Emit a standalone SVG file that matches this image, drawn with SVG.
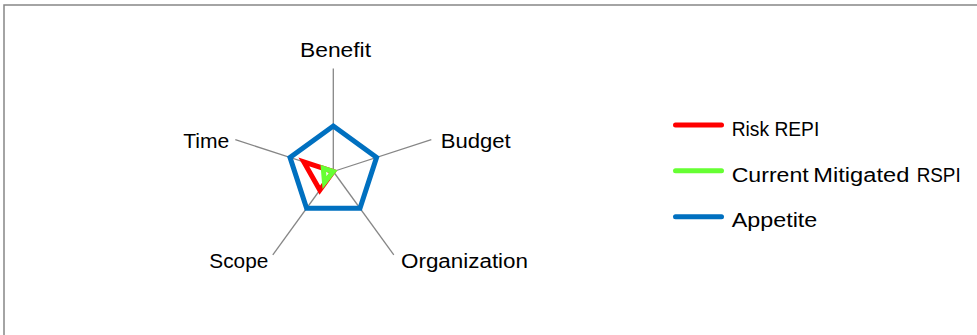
<svg xmlns="http://www.w3.org/2000/svg" width="977" height="335" viewBox="0 0 977 335">
<style>
.lbl{font-family:"Liberation Sans",Arial,sans-serif;font-size:20px;fill:#000}
.axis{stroke:#868686;stroke-width:1.3;fill:none}
.series{fill:none;stroke-width:5;stroke-linejoin:miter}
.leg{stroke-width:5;stroke-linecap:round}
</style>
<rect x="4" y="5" width="1000" height="400" fill="#fff" stroke="#868686" stroke-width="1.5"/>
<g id="axes">
<line class="axis" x1="333.3" y1="171.5" x2="333.3" y2="68.5"/>
<line class="axis" x1="333.3" y1="171.5" x2="431.3" y2="139.7"/>
<line class="axis" x1="333.3" y1="171.5" x2="393.8" y2="254.8"/>
<line class="axis" x1="333.3" y1="171.5" x2="272.8" y2="254.8"/>
<line class="axis" x1="333.3" y1="171.5" x2="235.3" y2="139.7"/>
</g>
<g id="axis-labels">
<text class="lbl" x="300" y="57" textLength="71" lengthAdjust="spacingAndGlyphs">Benefit</text>
<text class="lbl" x="440.7" y="147.5" textLength="70" lengthAdjust="spacingAndGlyphs">Budget</text>
<text class="lbl" x="401" y="268" textLength="127" lengthAdjust="spacingAndGlyphs">Organization</text>
<text class="lbl" x="209.3" y="268" textLength="59" lengthAdjust="spacingAndGlyphs">Scope</text>
<text class="lbl" x="183.3" y="147.5" textLength="46" lengthAdjust="spacingAndGlyphs">Time</text>
</g>
<g id="series-appetite">
<polygon class="series" stroke="#0070C0" points="333.3,126 376.6,157.4 360,208.3 306.6,208.3 290,157.4"/>
</g>
<g id="series-risk">
<polygon class="series" stroke="#FF0000" points="333.3,171.5 333.3,171.5 333.3,171.5 319.8,190.1 303.8,161.9"/>
</g>
<g id="series-current">
<polygon class="series" stroke="#66FF33" stroke-width="4.5" points="333.3,171.5 333.3,171.5 333.3,171.5 324.5,182.6 323.3,168.3"/>
</g>
<g id="legend">
<line class="leg" stroke="#FF0000" x1="675.5" y1="125" x2="721.5" y2="125"/>
<text class="lbl" x="731.7" y="135.7" textLength="87.6" lengthAdjust="spacingAndGlyphs">Risk REPI</text>
<line class="leg" stroke="#66FF33" x1="675.5" y1="170.7" x2="721.5" y2="170.7"/>
<text class="lbl" x="731.7" y="181.5"><tspan x="731.7" textLength="77" lengthAdjust="spacingAndGlyphs">Current</tspan> <tspan x="813.3" textLength="96" lengthAdjust="spacingAndGlyphs">Mitigated</tspan> <tspan x="916.7" textLength="44" lengthAdjust="spacingAndGlyphs">RSPI</tspan></text>
<line class="leg" stroke="#0070C0" x1="675.5" y1="216.7" x2="721.5" y2="216.7"/>
<text class="lbl" x="731.7" y="227.3" textLength="85.6" lengthAdjust="spacingAndGlyphs">Appetite</text>
</g>
</svg>
